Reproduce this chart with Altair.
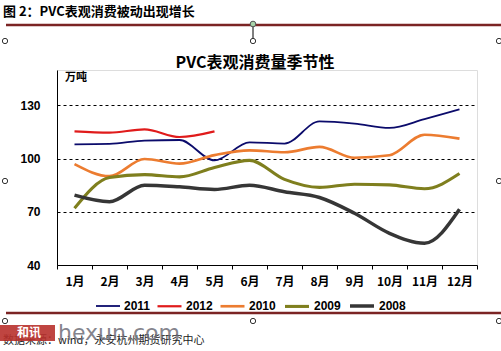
import altair as alt
import pandas as pd

months = ["1月", "2月", "3月", "4月", "5月", "6月", "7月", "8月", "9月", "10月", "11月", "12月"]
series_names = ["2011", "2012", "2010", "2009", "2008"]
v2011 = [108.1, 108.3, 110.2, 110.5, 99.0, 109.2, 108.5, 121.0, 119.8, 117.3, 122.3, 127.8]
v2012 = [115.4, 114.7, 116.5, 112.2, 115.4]
v2010 = [96.9, 90.1, 99.8, 97.2, 102.0, 104.7, 103.6, 106.6, 100.5, 101.9, 113.5, 111.3]
v2009 = [72.0, 89.3, 91.0, 89.7, 95.0, 99.0, 88.3, 83.8, 85.6, 85.2, 83.0, 91.6]
v2008 = [79.4, 75.7, 85.0, 84.1, 82.6, 85.0, 81.3, 78.1, 69.2, 57.9, 52.3, 71.4]
y_ticks = [40, 70, 100, 130]

colors = ["#0b0b6b", "#e01b1b", "#ec7c30", "#7f7f1e", "#363636"]
widths = [1.8, 3.5, 2.2, 2.0, 3.5]

rows = []
for name, vals in zip(series_names, [v2011, v2012, v2010, v2009, v2008]):
    for m, v in zip(months, vals):
        rows.append({"month": m, "value": v, "series": name})
df = pd.DataFrame(rows)

FONT = "Liberation Sans"
CJK = "Noto Sans CJK SC"

lines = alt.Chart(df).mark_line(interpolate="monotone").encode(
    x=alt.X("month:N", sort=months, bandPosition=0.5,
            scale=alt.Scale(type="band", domain=months, paddingInner=0, paddingOuter=0),
            axis=alt.Axis(title=None, labelAngle=0, tickBand="extent", tickSize=4,
                          tickColor="black", domainColor="black", labelFont=CJK,
                          labelFontWeight="bold", labelFontSize=12, labelColor="black",
                          labelPadding=7, grid=False)),
    y=alt.Y("value:Q", scale=alt.Scale(domain=[40, 150], nice=False, zero=False),
            axis=alt.Axis(title=None, values=y_ticks, tickSize=0, labelPadding=17,
                          labelFont=FONT, labelFontWeight="bold", labelFontSize=12,
                          labelColor="black", domainColor="black", grid=True,
                          gridColor="black", gridDash=[3, 3], gridWidth=1)),
    color=alt.Color("series:N", sort=series_names,
                    scale=alt.Scale(domain=series_names, range=colors),
                    legend=alt.Legend(title=None, orient="none", direction="horizontal",
                                      legendX=38, legendY=222, symbolType="stroke",
                                      symbolSize=576, symbolStrokeWidth=3,
                                      labelFont=FONT, labelFontWeight="bold",
                                      labelFontSize=12, labelColor="black",
                                      columnPadding=2, labelOffset=3)),
    strokeWidth=alt.StrokeWidth("series:N", scale=alt.Scale(domain=series_names, range=widths),
                                legend=None),
    order=alt.Order("series:N"),
)

one = pd.DataFrame({"a": [0]})

def text(t, x, y, size, weight="normal", color="black", align="left", font=CJK):
    return alt.Chart(one).mark_text(text=t, align=align, baseline="middle", fontSize=size,
                                    fontWeight=weight, color=color, font=font).encode(
        x=alt.value(x), y=alt.value(y))

def hline(x1, x2, y, color, w):
    return alt.Chart(one).mark_rule(color=color, strokeWidth=w).encode(
        x=alt.value(x1), x2=alt.value(x2), y=alt.value(y))

def circ(x, y, fill="white", stroke="#333333", size=28):
    return alt.Chart(one).mark_point(shape="circle", filled=True, fill=fill, stroke=stroke,
                                     strokeWidth=1, size=size, opacity=1).encode(
        x=alt.value(x), y=alt.value(y))

decor = [
    text("图 2：PVC表观消费被动出现增长", -54, -58, 13, "bold"),
    hline(-51, 444, -45, "#7b2424", 2.5),
    alt.Chart(one).mark_rule(color="black", strokeWidth=1).encode(
        x=alt.value(196), y=alt.value(-45), y2=alt.value(-29)),
    circ(196, -46, fill="#a9d3a9", stroke="#555555", size=32),
    circ(-52, -29), circ(196, -29), circ(442, -29),
    circ(-52, 111), circ(442, 111),
    text("PVC表观消费量季节性", 198, -7, 16, "bold", align="center"),
    text("万吨", 8, 8, 11, "bold"),
    hline(-51, 444, 243, "#7b2424", 2.5),
    circ(-52, 251), circ(196, 251), circ(442, 251),
    text("数据来源：wind，永安杭州期货研究中心", -54, 271, 11, "normal", "#222222"),
    alt.Chart(one).mark_rect(color="#b8312c", opacity=0.9).encode(
        x=alt.value(-57), x2=alt.value(-2), y=alt.value(255), y2=alt.value(271)),
    text("和讯", -40, 263, 12, "bold", "white"),
    alt.Chart(one).mark_text(text="hexun.com", align="left", baseline="middle", fontSize=22,
                             color="#6f6f7a", font="DejaVu Sans", opacity=0.85).encode(
        x=alt.value(1), y=alt.value(263)),
]

chart = alt.layer(lines, *decor).properties(
    width=420, height=195,
    autosize=alt.AutoSizeParams(type="none"),
    padding={"left": 57, "top": 70, "right": 24, "bottom": 86},
).configure_view(stroke=None).configure(background="white")

chart.save("out.html", embed_options={"renderer": "svg", "actions": False})
